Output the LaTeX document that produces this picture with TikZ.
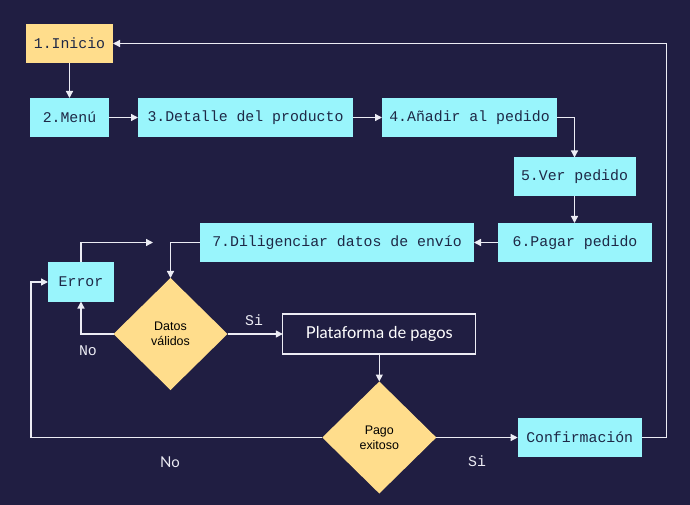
\documentclass[tikz,border=0pt]{standalone}
\usepackage{fontspec}
\usetikzlibrary{shapes.geometric,positioning,arrows.meta}
\newfontfamily\monofont{Liberation Mono}
\newfontfamily\sansfont{Liberation Sans}
\newfontfamily\latofont{Lato}
\definecolor{fondocolor}{RGB}{32,30,66}
\definecolor{pasocolor}{RGB}{153,245,252}
\definecolor{iniciocolor}{RGB}{255,221,140}
\definecolor{textocolor}{RGB}{30,40,70}
\definecolor{lineacolor}{RGB}{236,236,244}

\begin{document}
\begin{tikzpicture}[
	x=1bp, y=1bp,
	paso/.style={fill=pasocolor, text=textocolor, inner sep=0pt,
		minimum height=39bp, font=\monofont\fontsize{14.9}{17}\selectfont},
	decision/.style={diamond, fill=iniciocolor, text=black, inner sep=0pt,
		minimum width=114bp, minimum height=112bp, align=center,
		font=\sansfont\fontsize{12.5}{15}\selectfont},
	etiqueta/.style={text=lineacolor, font=\monofont\fontsize{14.9}{17}\selectfont},
	flecha/.style={draw=lineacolor, line width=1.3bp, -{Triangle[length=7bp, width=7bp]}},
	every node/.style={outer sep=0pt},
]
\fill[fondocolor] (0,0) rectangle (690,-505);
\useasboundingbox (0,0) rectangle (690,-505);
% Input 1: width, 2: options, 3: name, 4: text.
\def\paso#1[#2](#3)#4{
	\node[paso, minimum width=#1, #2] (#3) {#4};
}
% Input 1 ignored (for consistency).
\def\decision#1[#2](#3)#4{
	\node[decision, #2] (#3) {#4};
}
	\paso{87bp}[fill=iniciocolor, at={(69.5,-43.5)}](inicio){1.Inicio}
	\paso{79bp}[below=35bp of inicio](menu){2.Menú}
	\paso{215bp}[right=29bp of menu](detalle){3.Detalle del producto}
	\paso{175bp}[right=29bp of detalle](anadir){4.Añadir al pedido}
	\draw[flecha] (inicio) -- (menu);
	\draw[flecha] (menu) -- (detalle);
	\draw[flecha] (detalle) -- (anadir);

	\paso{122bp}[at={(574.5,-177)}](ver){5.Ver pedido}
	\paso{154bp}[at={(575,-242.5)}](pagar){6.Pagar pedido}
	\paso{274bp}[at={(337,-242.5)}](dilig){7.Diligenciar datos de envío}
	\draw[flecha] (anadir.east) -| (ver.north);
	\draw[flecha] (ver.south) -- (ver.south |- pagar.north);
	\draw[flecha] (pagar) -- (dilig);

	\paso{66bp}[at={(81,-282)}](error){Error}
	\decision{}[at={(170.5,-334)}](datos){Datos\\válidos}
	\node[draw=lineacolor, line width=1.3bp, minimum width=193bp, minimum height=40bp,
		inner sep=0pt, text=white, font=\latofont\fontsize{16.5}{19}\selectfont]
		(plataforma) at (379.3,-334) {Plataforma de pagos};
	\decision{}[at={(379.3,-437.5)}](pago){Pago\\exitoso}
	\paso{124bp}[at={(579.7,-437.5)}](confirmacion){Confirmación}

	\coordinate (errorfin) at (153,-242.5);
	\coordinate (izq) at (31,0);
	\coordinate (der) at (666.5,0);
	\draw[flecha] (dilig.west) -| (datos.north);
	\draw[flecha] (datos.west) -| (error.south);
	\draw[flecha] (error.north) |- (errorfin);
	\draw[flecha] (datos.east) -- (plataforma.west);
	\draw[flecha] (plataforma.south) -- (pago.north);
	\draw[flecha] (pago.west) -- (pago.west -| izq) |- (error.west);
	\draw[flecha] (pago.east) -- (confirmacion.west);
	\draw[flecha] (confirmacion.east) -- (confirmacion.east -| der) |- (inicio.east);

	\node[etiqueta] (nodatos) at (88,-351) {No};
	\node[etiqueta] (sidatos) at (254,-320) {Si};
	\node[etiqueta, font=\latofont\fontsize{15}{18}\selectfont] (nopago) at (170,-462) {No};
	\node[etiqueta] (sipago) at (477,-461) {Si};
\end{tikzpicture}
\end{document}
